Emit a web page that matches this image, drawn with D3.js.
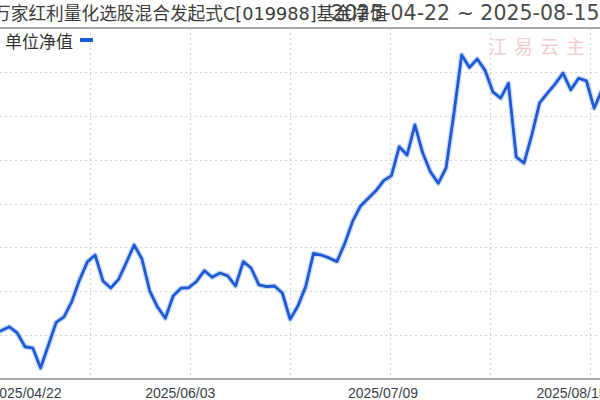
<!DOCTYPE html>
<html>
<head>
<meta charset="utf-8">
<script src="https://cdn.jsdelivr.net/npm/d3@7/dist/d3.min.js"></script>
<style>
  html, body { margin: 0; padding: 0; background: #fff; }
  svg { display: block; }
</style>
</head>
<body>
<div id="chart"></div>
<script>
// ---- data ----
const titleText = "万家红利量化选股混合发起式C[019988]基金净值";
const rangeText = "2025-04-22 ~ 2025-08-15";
const seriesName = "单位净值";
const watermark = "江易云主";
const tickIndex = [0, 26, 52, 79];
const tickLabels = ["2025/04/22", "2025/06/03", "2025/07/09", "2025/08/15"];
const yTicks = [1.10, 1.12, 1.14, 1.16, 1.18, 1.20, 1.22, 1.24, 1.26];
const nav = [
  1.1205, 1.1210, 1.1221, 1.1238, 1.1210, 1.1147, 1.1141, 1.1050, 1.1154, 1.1258,
  1.1283, 1.1353, 1.1452, 1.1534, 1.1565, 1.1447, 1.1415, 1.1454, 1.1531, 1.1611,
  1.1547, 1.1401, 1.1328, 1.1277, 1.1378, 1.1414, 1.1416, 1.1445, 1.1494, 1.1464,
  1.1483, 1.1470, 1.1424, 1.1535, 1.1506, 1.1429, 1.1421, 1.1424, 1.1392, 1.1272,
  1.1333, 1.1421, 1.1573, 1.1565, 1.1552, 1.1535, 1.1617, 1.1717, 1.1787, 1.1823,
  1.1858, 1.1904, 1.1927, 1.2059, 1.2021, 1.2158, 1.2031, 1.1944, 1.1892, 1.1962,
  1.2208, 1.2477, 1.2420, 1.2459, 1.2407, 1.2309, 1.2280, 1.2348, 1.2012, 1.1984,
  1.2113, 1.2259, 1.2303, 1.2345, 1.2394, 1.2318, 1.2371, 1.2359, 1.2234, 1.2318
];

// ---- layout ----
const W = 600, H = 400;
const plotLeft = -14, plotRight = 602, plotTop = 28, plotBottom = 379;

const svg = d3.select("#chart").append("svg")
  .attr("width", W).attr("height", H)
  .style("font-family", "'DejaVu Sans', 'Noto Sans CJK SC', sans-serif");

svg.append("rect").attr("width", W).attr("height", H).attr("fill", "#fff");

const x = d3.scaleLinear().domain([0, nav.length - 1]).range([plotLeft, plotRight]);
const y = d3.scaleLinear().domain([yTicks[0], yTicks[yTicks.length - 1]]).range([plotBottom, plotTop]);
const gridX = d3.scaleLinear().domain([0, 6]).range([-10, 590]);

// horizontal grid
svg.append("g").selectAll("line")
  .data(yTicks.slice(1, -1))
  .join("line")
  .attr("x1", 0).attr("x2", W)
  .attr("y1", d => Math.round(y(d)) + 0.5).attr("y2", d => Math.round(y(d)) + 0.5)
  .attr("stroke", "#d6d6d6").attr("stroke-width", 1.2)
  .attr("stroke-dasharray", "2,3");

// vertical grid
svg.append("g").selectAll("line")
  .data(d3.range(1, 7))
  .join("line")
  .attr("x1", d => gridX(d) + 0.5).attr("x2", d => gridX(d) + 0.5)
  .attr("y1", plotTop).attr("y2", plotBottom)
  .attr("stroke", "#d6d6d6").attr("stroke-width", 1.2)
  .attr("stroke-dasharray", "2,3");

// frame lines (top & bottom)
[yTicks[0], yTicks[yTicks.length - 1]].forEach(v => {
  svg.append("line")
    .attr("x1", 0).attr("x2", W)
    .attr("y1", y(v)).attr("y2", y(v))
    .attr("stroke", "#a9a9a9").attr("stroke-width", 2);
});

// watermark
svg.append("text")
  .attr("x", 540).attr("y", 54)
  .attr("text-anchor", "middle")
  .attr("font-family", "'Noto Sans CJK SC', sans-serif")
  .attr("font-size", 19)
  .attr("letter-spacing", 7)
  .attr("fill", "#edb9b9")
  .attr("opacity", 0.7)
  .text(watermark);

// line
const line = d3.line().x((d, i) => x(i)).y(d => y(d));
svg.append("path").datum(nav)
  .attr("d", line).attr("fill", "none")
  .attr("stroke", "#8fb0ee").attr("stroke-width", 5.5).attr("opacity", 0.45)
  .attr("stroke-linejoin", "round");
svg.append("path").datum(nav)
  .attr("d", line).attr("fill", "none")
  .attr("stroke", "#1f5ad6").attr("stroke-width", 2.8)
  .attr("stroke-linejoin", "round");

// x axis labels
const axis = d3.axisBottom(x)
  .tickValues(tickIndex)
  .tickFormat((d, i) => tickLabels[i])
  .tickSize(0).tickPadding(6);
const gAxis = svg.append("g")
  .attr("transform", `translate(0,${plotBottom})`)
  .call(axis);
gAxis.select(".domain").remove();
gAxis.selectAll("text")
  .attr("font-family", "'Liberation Sans', Arial, sans-serif")
  .attr("font-size", 14)
  .attr("fill", "#3a3f4a")
  .attr("dy", "0.95em")
  .attr("dx", -9);
gAxis.selectAll(".tick").filter((d, i) => i === 0).select("text")
  .attr("text-anchor", "start").attr("dx", 5);
gAxis.selectAll(".tick").filter((d, i) => i === tickIndex.length - 1).select("text")
  .attr("text-anchor", "end").attr("dx", 4);

// date range (drawn first, title overlaps it as in the original)
svg.append("text")
  .attr("x", 331).attr("y", 20)
  .attr("font-size", 20.5)
  .attr("fill", "#4a4a4a")
  .text(rangeText);
// title
svg.append("text")
  .attr("x", -7).attr("y", 20)
  .attr("font-size", 17.7)
  .attr("fill", "#3c3c3c")
  .text(titleText);

// legend
svg.append("text")
  .attr("x", 5).attr("y", 48)
  .attr("font-family", "'Noto Sans CJK SC', sans-serif")
  .attr("font-size", 17)
  .attr("fill", "#333")
  .text(seriesName);
svg.append("rect")
  .attr("x", 80).attr("y", 38).attr("width", 13).attr("height", 4)
  .attr("fill", "#1f5ad6");
</script>
</body>
</html>
